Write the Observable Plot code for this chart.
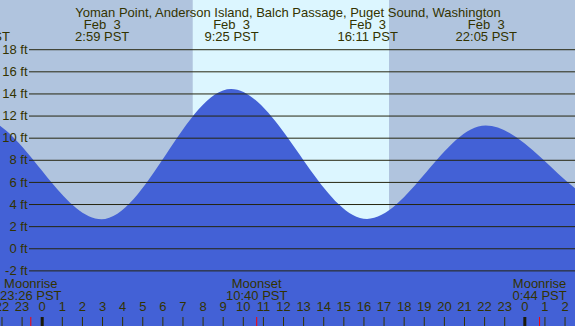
<!DOCTYPE html>
<html>
<head>
<meta charset="utf-8">
<script src="https://cdn.jsdelivr.net/npm/d3@7"></script>
<script src="https://cdn.jsdelivr.net/npm/@observablehq/plot@0.6"></script>
<style>
  html, body { margin: 0; padding: 0; background: #b0c4de; }
  svg text { white-space: pre; }
</style>
</head>
<body>
<div id="chart"></div>
<script>
// ---- data ----
const title = "Yoman Point, Anderson Island, Balch Passage, Puget Sound, Washington";

// tide extremes (hours from midnight Feb 3, feet); the curve passes smoothly between them
const tideHours = [-9.3, -3.13, 2.98, 9.42, 16.18, 22.08, 28.4, 34.6];
const tideFeet  = [4.0, 11.8, 2.62, 14.4, 2.65, 11.09, 3.9, 12.0];

// high / low events shown in header
const eventHours = [-3.13, 2.983, 9.417, 16.183, 22.083];
const eventDates = ["Feb  2", "Feb  3", "Feb  3", "Feb  3", "Feb  3"];
const eventTimes = ["20:52 PST", "2:59 PST", "9:25 PST", "16:11 PST", "22:05 PST"];

// daylight
const sunriseHour = 7.51;
const sunsetHour = 17.27;

// moon events
const moonHours = [-0.567, 10.667, 24.733];
const moonNames = ["Moonrise", "Moonset", "Moonrise"];
const moonTimes = ["23:26 PST", "10:40 PST", "0:44 PST"];

// axes
const feetTicks = [-2, 0, 2, 4, 6, 8, 10, 12, 14, 16, 18];
const hourTicks = d3.range(-2, 27);
const midnightHours = [0, 24];
const xDomain = [-2.074, 26.52];
const yDomain = [-7.03, 22.45];

// ---- build ----
const tide = tideHours.map((t, i) => ({t, h: tideFeet[i]}));
const events = eventHours.map((t, i) => ({t, date: eventDates[i], time: eventTimes[i]}));
const moon = moonHours.map((t, i) => ({t, name: moonNames[i], time: moonTimes[i]}));

const textColor = "#333300";
const fs = 13;

const chart = Plot.plot({
  width: 575,
  height: 326,
  marginLeft: 0, marginRight: 0, marginTop: 0, marginBottom: 0,
  x: {domain: xDomain, axis: null},
  y: {domain: yDomain, axis: null},
  style: {background: "#b0c4de", fontFamily: "'Liberation Sans', Arial, sans-serif", fontSize: fs + "px", overflow: "hidden"},
  marks: [
    Plot.rect([{x1: sunriseHour, x2: sunsetHour}], {x1: "x1", x2: "x2", fill: "#dcf6ff"}),
    Plot.areaY(tide, {x: "t", y1: () => yDomain[0], y2: "h", curve: "monotone-x", fill: "#4361d6"}),
    Plot.ruleY(feetTicks, {y: d => d, stroke: "#26260f", strokeWidth: 1, insetLeft: 29}),
    Plot.text(feetTicks, {y: d => d, text: d => `${d} ft`, frameAnchor: "left", textAnchor: "end", dx: 27, fill: textColor, fontSize: fs}),
    // header
    Plot.text([title], {text: d => d, frameAnchor: "top", dy: 7.5, fill: textColor, fontSize: fs}),
    Plot.text(events, {x: "t", text: "date", frameAnchor: "top", dy: 19.1, fill: textColor, fontSize: fs}),
    Plot.text(events, {x: "t", text: "time", frameAnchor: "top", dy: 31.5, fill: textColor, fontSize: fs}),
    // bottom
    Plot.text(moon, {x: "t", text: "name", frameAnchor: "bottom", dy: 287.5 - 326, fill: textColor, fontSize: fs}),
    Plot.text(moon, {x: "t", text: "time", frameAnchor: "bottom", dy: 299.1 - 326, fill: textColor, fontSize: fs}),
    Plot.text(hourTicks, {x: d => d, text: d => String(((d % 24) + 24) % 24), frameAnchor: "bottom", dy: 310.1 - 326, fill: textColor, fontSize: fs}),
    Plot.ruleX(hourTicks, {x: d => d, stroke: "#333300", strokeWidth: 1, insetTop: 317}),
    Plot.ruleX(midnightHours, {x: d => d, stroke: "#1a1a0a", strokeWidth: 3, insetTop: 317}),
    Plot.ruleX(moonHours, {x: d => d, stroke: "#ff0000", strokeWidth: 1, insetTop: 317})
  ]
});
document.getElementById("chart").appendChild(chart);
</script>
</body>
</html>
